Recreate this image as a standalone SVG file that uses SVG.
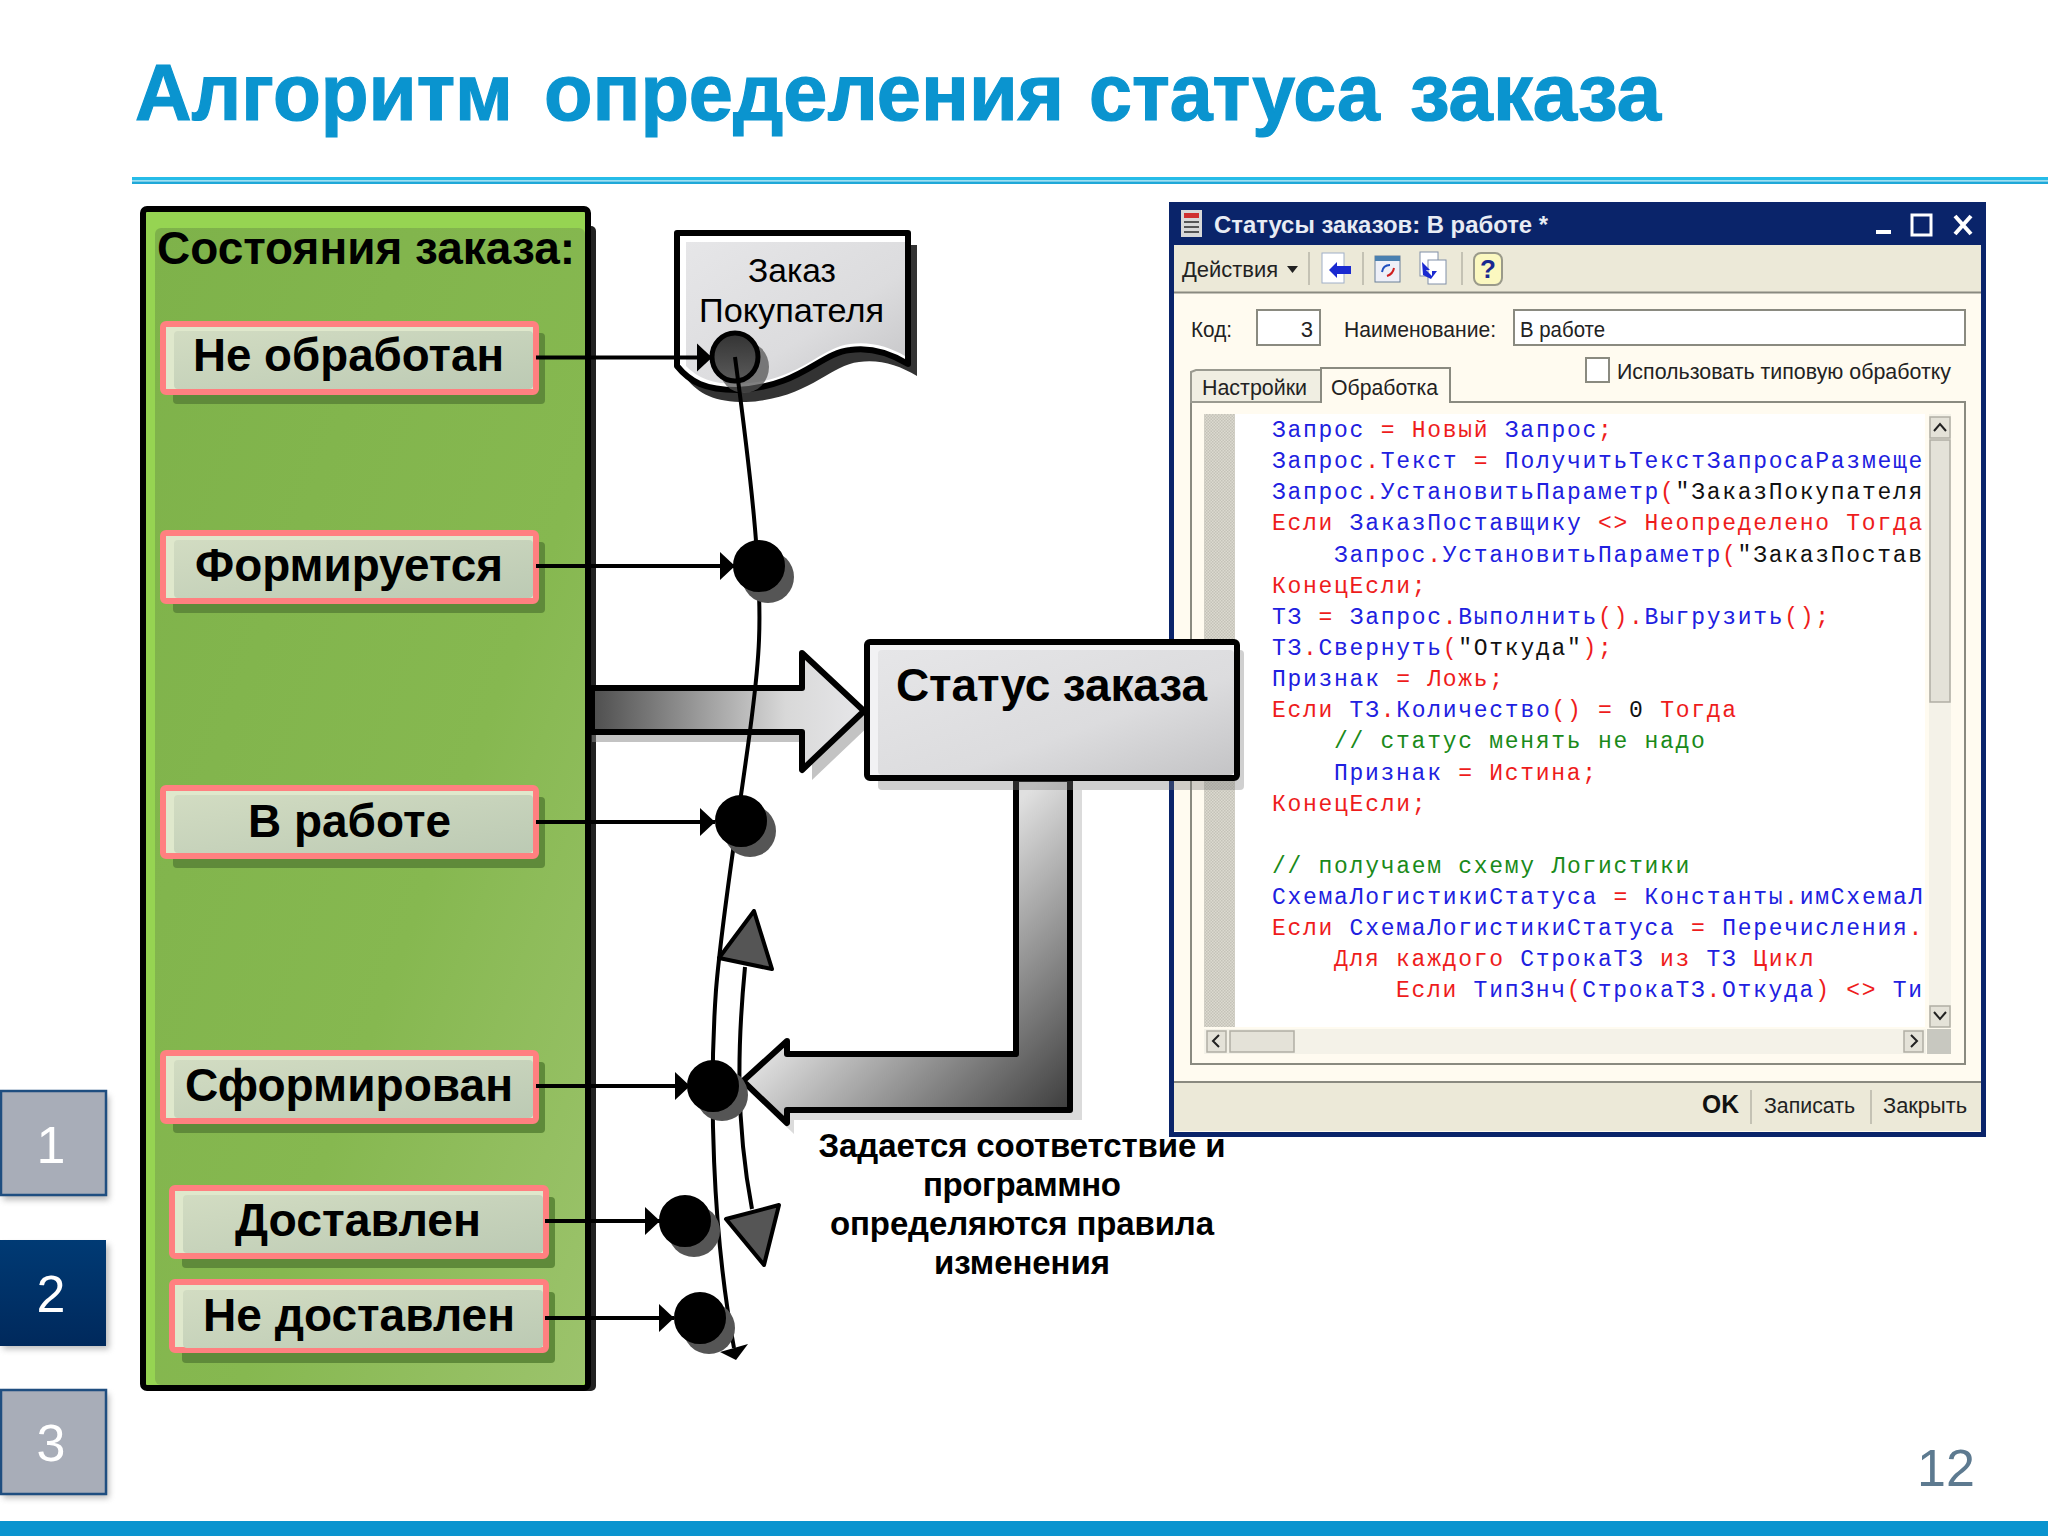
<svg xmlns="http://www.w3.org/2000/svg" width="2048" height="1536" viewBox="0 0 2048 1536">
<defs>
<style>
text{font-family:"Liberation Sans",Arial,sans-serif}
.st{font-weight:700;font-size:46px;fill:#000}
.nav{fill:#fff;font-size:52px;text-anchor:middle}
.boxsh{fill:#5f8a3a}
.boxo{fill:#dfe8cc;stroke:#ff8080;stroke-width:6}
.boxi{fill:url(#boxg)}
.sh{fill:#555}
.dot{fill:#000;stroke:#000;stroke-width:2}
.con{fill:none;stroke:#000;stroke-width:4}
.ui{font-size:22px;fill:#222}
.code{font-family:"Liberation Mono","Courier New",monospace;font-size:23px;letter-spacing:1.72px;fill:#2020e0;white-space:pre}
.r{fill:#ee1c1c}
.k{fill:#111}
.g{fill:#1a8a1a}
.inp{fill:#fff;stroke:#8a8a80;stroke-width:2}
.btn{fill:#e4e2d8;stroke:#b0aea4;stroke-width:1.5}
.sep{stroke:#c4c2b4;stroke-width:2}
</style>
<linearGradient id="boxg" x1="0" y1="0" x2="1" y2="1"><stop offset="0" stop-color="#d2dcc2"/><stop offset="1" stop-color="#bccab4"/></linearGradient>
<linearGradient id="pan" x1="0" y1="0" x2="1" y2="1"><stop offset="0" stop-color="#7eb24a"/><stop offset=".6" stop-color="#86b850"/><stop offset="1" stop-color="#9cc36c"/></linearGradient>
<linearGradient id="gr" x1="0" y1="0" x2="1" y2="1"><stop offset="0" stop-color="#e6e6e8"/><stop offset=".6" stop-color="#dcdcde"/><stop offset="1" stop-color="#c4c4c6"/></linearGradient>
<linearGradient id="a1" gradientUnits="userSpaceOnUse" x1="592" y1="700" x2="850" y2="700"><stop offset="0" stop-color="#4e4e4e"/><stop offset=".75" stop-color="#d8d8d8"/><stop offset="1" stop-color="#e4e4e6"/></linearGradient>
<linearGradient id="a2" gradientUnits="userSpaceOnUse" x1="890" y1="930" x2="1070" y2="1110"><stop offset="0" stop-color="#e0e0e0"/><stop offset="1" stop-color="#3c3c3c"/></linearGradient>
<linearGradient id="nv" x1="0" y1="0" x2="0" y2="1"><stop offset="0" stop-color="#003a74"/><stop offset="1" stop-color="#00295c"/></linearGradient>
<linearGradient id="dot1" x1="0" y1="0" x2="0" y2="1"><stop offset="0" stop-color="#333"/><stop offset="1" stop-color="#5a5a5a"/></linearGradient>
<pattern id="dith" width="3" height="3" patternUnits="userSpaceOnUse"><rect width="3" height="3" fill="#dcdad0"/><rect width="1.5" height="1.5" fill="#c4c2b8"/><rect x="1.5" y="1.5" width="1.5" height="1.5" fill="#c4c2b8"/></pattern>
<filter id="soft" x="-20%" y="-20%" width="140%" height="140%"><feGaussianBlur stdDeviation="3"/></filter>
<clipPath id="codeclip"><rect x="1236" y="414" width="688" height="612"/></clipPath>
<marker id="ah" markerUnits="userSpaceOnUse" markerWidth="16" markerHeight="30" refX="15" refY="15" orient="auto"><path d="M0,1 L15,15 L0,29 z" fill="#000"/></marker>
</defs>
<rect width="2048" height="1536" fill="#fff"/>

<g id="header">
<text x="135" y="120" font-size="80" font-weight="700" fill="#0a94cf" stroke="#0a94cf" stroke-width="1.2"><tspan x="135" textLength="378" lengthAdjust="spacingAndGlyphs">Алгоритм</tspan> <tspan x="544" textLength="520" lengthAdjust="spacingAndGlyphs">определения</tspan> <tspan x="1089" textLength="291" lengthAdjust="spacingAndGlyphs">статуса</tspan> <tspan x="1410" textLength="251" lengthAdjust="spacingAndGlyphs">заказа</tspan></text>
<rect x="132" y="177" width="1916" height="3.500" fill="#26bce8"/>
<rect x="132" y="180.500" width="1916" height="1" fill="#a8e4f4"/>
<rect x="132" y="181.500" width="1916" height="2.500" fill="#1fa8d8"/>
</g>

<g id="nav">
<g id="nav-1"><rect x="3" y="1096" width="106" height="104" fill="#777" opacity=".5" filter="url(#soft)"/><rect x="1" y="1091" width="105" height="104" fill="#a8adb8" stroke="#1f4e80" stroke-width="2.500"/><text class="nav" x="51" y="1163">1</text></g>
<g id="nav-2"><rect x="3" y="1245" width="106" height="104" fill="#777" opacity=".5" filter="url(#soft)"/><rect x="0" y="1240" width="106" height="106" fill="url(#nv)"/><text class="nav" x="51" y="1312">2</text></g>
<g id="nav-3"><rect x="3" y="1394" width="106" height="104" fill="#777" opacity=".5" filter="url(#soft)"/><rect x="1" y="1390" width="105" height="104" fill="#a8adb8" stroke="#1f4e80" stroke-width="2.500"/><text class="nav" x="51" y="1461">3</text></g>
</g>

<g id="footer">
<rect x="0" y="1521" width="2048" height="15" fill="#0a94cf"/>
<text x="1917" y="1486" font-size="52" fill="#5d7a90">12</text>
</g>

<g id="window">
<rect x="1169" y="202" width="817" height="935" fill="#0a246a"/>
<rect x="1174" y="245" width="807" height="887" fill="#fffbf0"/>
<rect x="1174" y="245" width="807" height="47" fill="#ece9d8"/>
<line x1="1174" y1="292.500" x2="1981" y2="292.500" stroke="#8a8a80" stroke-width="2"/>
<rect x="1174" y="1082" width="807" height="49" fill="#ece9d8"/>
<line x1="1174" y1="1082" x2="1981" y2="1082" stroke="#8a8a80" stroke-width="2"/>
<g id="title-icon"><rect x="1181" y="210" width="21" height="27" fill="#d8d8d8"/><rect x="1184" y="213" width="15" height="5" fill="#d03030"/><rect x="1184" y="221" width="15" height="2" fill="#555"/><rect x="1184" y="226" width="15" height="2" fill="#555"/><rect x="1184" y="231" width="15" height="2" fill="#555"/></g>
<text x="1214" y="233" font-size="24" font-weight="700" fill="#e8ecf4" textLength="334" lengthAdjust="spacingAndGlyphs">Статусы заказов: В работе *</text>
<rect x="1876" y="230" width="15" height="4" fill="#fff"/>
<rect x="1912" y="215" width="19" height="20" fill="none" stroke="#fff" stroke-width="3"/>
<path d="M1955,216 L1971,234 M1971,216 L1955,234" stroke="#fff" stroke-width="4"/>
<text class="ui" x="1182" y="277" textLength="96" lengthAdjust="spacingAndGlyphs">Действия</text>
<path d="M1287,266 h11 l-5.500,7 z" fill="#222"/>
<line class="sep" x1="1309" y1="252" x2="1309" y2="285"/><line class="sep" x1="1363" y1="252" x2="1363" y2="285"/><line class="sep" x1="1462" y1="252" x2="1462" y2="285"/>
<g id="tb-1"><rect x="1322" y="253" width="22" height="30" fill="#fff" stroke="#a0b0c8"/><path d="M1351,266 h-14 v-4 l-8,8 l8,8 v-4 h14 z" fill="#1a2ad0"/></g>
<g id="tb-2"><rect x="1375" y="256" width="25" height="26" fill="#eef0f8" stroke="#6a8098"/><rect x="1375" y="256" width="25" height="5" fill="#4a80b0"/><path d="M1382,272 q1,-7 8,-7" fill="none" stroke="#2050c0" stroke-width="2"/><path d="M1394,268 q-1,6 -7,8" fill="none" stroke="#d02020" stroke-width="2"/></g>
<g id="tb-3"><rect x="1420" y="252" width="18" height="24" fill="#fff" stroke="#8090a8"/><rect x="1428" y="260" width="18" height="24" fill="#fff" stroke="#8090a8"/><path d="M1422,262 l8,8 h-4 l6,6 v-5 h5 l-6,8 l-8,-4 z" fill="#1a2ad0"/></g>
<g id="tb-4"><rect x="1474" y="253" width="28" height="32" rx="7" fill="#fbf8c0" stroke="#9a9a8a" stroke-width="2"/><text x="1488" y="278" font-size="26" font-weight="700" fill="#1a2a90" text-anchor="middle">?</text></g>
<text class="ui" x="1191" y="337" textLength="41" lengthAdjust="spacingAndGlyphs">Код:</text>
<rect class="inp" x="1257" y="310" width="63" height="35"/>
<text class="ui" x="1313" y="337" text-anchor="end">3</text>
<text class="ui" x="1344" y="337" textLength="152" lengthAdjust="spacingAndGlyphs">Наименование:</text>
<rect class="inp" x="1514" y="310" width="451" height="35"/>
<text class="ui" x="1520" y="337" textLength="85" lengthAdjust="spacingAndGlyphs">В работе</text>
<rect x="1586" y="358" width="23" height="24" fill="#fff" stroke="#8a8a80" stroke-width="2"/>
<text class="ui" x="1617" y="379" textLength="334" lengthAdjust="spacingAndGlyphs">Использовать типовую обработку</text>
<rect x="1191" y="402" width="774" height="662" fill="#fffbf0" stroke="#8a8a80" stroke-width="2"/>
<path d="M1191,402 V372 L1196,370 H1321 V402 z" fill="#f0eee2" stroke="#9a9a90" stroke-width="2"/>
<path d="M1321,403 V368 H1450 V403" fill="#fffbf0" stroke="#8a8a80" stroke-width="2"/>
<text class="ui" x="1202" y="395" textLength="105" lengthAdjust="spacingAndGlyphs">Настройки</text>
<text class="ui" x="1331" y="395" textLength="107" lengthAdjust="spacingAndGlyphs">Обработка</text>
<rect x="1204" y="414" width="31" height="613" fill="url(#dith)"/>
<rect x="1235" y="414" width="690" height="613" fill="#fff"/>
<g clip-path="url(#codeclip)">
<text class="code" x="1272" y="437">Запрос <tspan class="r">= Новый</tspan> Запрос<tspan class="r">;</tspan></text>
<text class="code" x="1272" y="468">Запрос<tspan class="r">.</tspan>Текст <tspan class="r">=</tspan> ПолучитьТекстЗапросаРазмеще</text>
<text class="code" x="1272" y="499">Запрос<tspan class="r">.</tspan>УстановитьПараметр<tspan class="r">(</tspan><tspan class="k">"ЗаказПокупателя</tspan></text>
<text class="code" x="1272" y="530"><tspan class="r">Если</tspan> ЗаказПоставщику <tspan class="r">&lt;&gt; Неопределено Тогда</tspan></text>
<text class="code" x="1334" y="562">Запрос<tspan class="r">.</tspan>УстановитьПараметр<tspan class="r">(</tspan><tspan class="k">"ЗаказПостав:</tspan></text>
<text class="code r" x="1272" y="593">КонецЕсли;</text>
<text class="code" x="1272" y="624">ТЗ <tspan class="r">=</tspan> Запрос<tspan class="r">.</tspan>Выполнить<tspan class="r">().</tspan>Выгрузить<tspan class="r">();</tspan></text>
<text class="code" x="1272" y="655">ТЗ<tspan class="r">.</tspan>Свернуть<tspan class="r">(</tspan><tspan class="k">"Откуда"</tspan><tspan class="r">);</tspan></text>
<text class="code" x="1272" y="686">Признак <tspan class="r">= Ложь;</tspan></text>
<text class="code" x="1272" y="717"><tspan class="r">Если</tspan> ТЗ<tspan class="r">.</tspan>Количество<tspan class="r">() =</tspan> <tspan class="k">0</tspan> <tspan class="r">Тогда</tspan></text>
<text class="code g" x="1334" y="748">// статус менять не надо</text>
<text class="code" x="1334" y="780">Признак <tspan class="r">= Истина;</tspan></text>
<text class="code r" x="1272" y="811">КонецЕсли;</text>
<text class="code g" x="1272" y="873">// получаем схему Логистики</text>
<text class="code" x="1272" y="904">СхемаЛогистикиСтатуса <tspan class="r">=</tspan> Константы<tspan class="r">.</tspan>имСхемаЛ</text>
<text class="code" x="1272" y="935"><tspan class="r">Если</tspan> СхемаЛогистикиСтатуса <tspan class="r">=</tspan> Перечисления<tspan class="r">.:</tspan></text>
<text class="code" x="1334" y="966"><tspan class="r">Для каждого</tspan> СтрокаТЗ <tspan class="r">из</tspan> ТЗ <tspan class="r">Цикл</tspan></text>
<text class="code" x="1396" y="997"><tspan class="r">Если</tspan> ТипЗнч<tspan class="r">(</tspan>СтрокаТЗ<tspan class="r">.</tspan>Откуда<tspan class="r">) &lt;&gt;</tspan> Ти</text>
</g>
<g id="scrollbars">
<rect x="1929" y="414" width="22" height="613" fill="#f4f2e8"/>
<rect class="btn" x="1930" y="417" width="20" height="21"/><path d="M1934,431 l6,-7 l6,7" fill="none" stroke="#222" stroke-width="2"/>
<rect class="btn" x="1930" y="440" width="20" height="262"/>
<rect class="btn" x="1930" y="1006" width="20" height="21"/><path d="M1934,1012 l6,7 l6,-7" fill="none" stroke="#222" stroke-width="2"/>
<rect x="1204" y="1029" width="722" height="25" fill="#f4f2e8"/>
<rect class="btn" x="1207" y="1031" width="19" height="21"/><path d="M1219,1035 l-6,6 l6,6" fill="none" stroke="#222" stroke-width="2"/>
<rect class="btn" x="1230" y="1031" width="64" height="21"/>
<rect class="btn" x="1904" y="1031" width="19" height="21"/><path d="M1911,1035 l6,6 l-6,6" fill="none" stroke="#222" stroke-width="2"/>
<rect x="1927" y="1029" width="24" height="25" fill="#c8c8c0"/>
</g>
<text x="1702" y="1113" font-size="26" font-weight="700" fill="#111" textLength="37" lengthAdjust="spacingAndGlyphs">OK</text>
<line class="sep" x1="1751" y1="1090" x2="1751" y2="1124"/><line class="sep" x1="1871" y1="1090" x2="1871" y2="1124"/>
<text class="ui" x="1764" y="1113" textLength="91" lengthAdjust="spacingAndGlyphs">Записать</text>
<text class="ui" x="1883" y="1113" textLength="84" lengthAdjust="spacingAndGlyphs">Закрыть</text>
</g>

<g id="panel">
<rect x="152" y="226" width="444" height="1165" rx="5" fill="#222"/>
<rect x="143" y="209" width="445" height="1179" rx="4" fill="#96d452" stroke="#000" stroke-width="6"/>
<rect x="155" y="228" width="430" height="1157" rx="6" fill="url(#pan)"/>
<text class="st" x="157" y="264" textLength="418" lengthAdjust="spacingAndGlyphs">Состояния заказа:</text>
</g>
<g id="state-1"><rect class="boxsh" x="173" y="333" width="372" height="71" rx="4"/><rect class="boxo" x="163" y="324" width="373" height="68" rx="3"/><rect class="boxi" x="174" y="331" width="359" height="58" rx="4"/><text class="st" x="193" y="371" textLength="311" lengthAdjust="spacingAndGlyphs">Не обработан</text></g>
<g id="state-2"><rect class="boxsh" x="173" y="542" width="372" height="71" rx="4"/><rect class="boxo" x="163" y="533" width="373" height="68" rx="3"/><rect class="boxi" x="174" y="540" width="359" height="58" rx="4"/><text class="st" x="195" y="581" textLength="308" lengthAdjust="spacingAndGlyphs">Формируется</text></g>
<g id="state-3"><rect class="boxsh" x="173" y="797" width="372" height="71" rx="4"/><rect class="boxo" x="163" y="788" width="373" height="68" rx="3"/><rect class="boxi" x="174" y="795" width="359" height="58" rx="4"/><text class="st" x="248" y="837" textLength="203" lengthAdjust="spacingAndGlyphs">В работе</text></g>
<g id="state-4"><rect class="boxsh" x="173" y="1062" width="372" height="71" rx="4"/><rect class="boxo" x="163" y="1053" width="373" height="68" rx="3"/><rect class="boxi" x="174" y="1060" width="359" height="58" rx="4"/><text class="st" x="185" y="1101" textLength="328" lengthAdjust="spacingAndGlyphs">Сформирован</text></g>
<g id="state-5"><rect class="boxsh" x="182" y="1197" width="373" height="71" rx="4"/><rect class="boxo" x="172" y="1188" width="374" height="68" rx="3"/><rect class="boxi" x="183" y="1195" width="360" height="58" rx="4"/><text class="st" x="235" y="1236" textLength="246" lengthAdjust="spacingAndGlyphs">Доставлен</text></g>
<g id="state-6"><rect class="boxsh" x="182" y="1292" width="373" height="71" rx="4"/><rect class="boxo" x="172" y="1282" width="374" height="68" rx="3"/><rect class="boxi" x="183" y="1290" width="360" height="58" rx="4"/><text class="st" x="203" y="1331" textLength="312" lengthAdjust="spacingAndGlyphs">Не доставлен</text></g>

<g id="document">
<path d="M677,233 H908 V364 C890,353 870,347 850,350 C820,353 800,387 737,390 C705,390 690,382 677,366 z" fill="#333" transform="translate(9,12)"/>
<path d="M677,233 H908 V364 C890,353 870,347 850,350 C820,353 800,387 737,390 C705,390 690,382 677,366 z" fill="#fff" stroke="#000" stroke-width="6" stroke-linejoin="round"/>
<path d="M686,242 H905 V356 C890,347 870,341 850,344 C820,347 800,382 737,384 C712,384 698,378 686,366 z" fill="url(#gr)"/>
<text x="748" y="282" font-family="Noto Sans" font-weight="500" font-size="34" fill="#000" textLength="88" lengthAdjust="spacingAndGlyphs">Заказ</text>
<text x="699" y="322" font-family="Noto Sans" font-weight="500" font-size="34" fill="#000" textLength="185" lengthAdjust="spacingAndGlyphs">Покупателя</text>
</g>

<g id="arrow-in">
<path d="M592,697 H810 L812,660 L873,722 L812,780 V742 H592 z" fill="#888" opacity=".5"/>
<path d="M592,688 H802 V653 L864,711 L802,770 V732 H592 z" fill="url(#a1)" stroke="#000" stroke-width="6" stroke-linejoin="round"/>
</g>
<g id="arrow-out">
<path d="M1026,790 H1082 V1120 H794 V1134 L750,1092 L794,1052 V1064 H1026 z" fill="#999" opacity=".35"/>
<path d="M1016,779 V1054 H787 V1041 L743,1081 L787,1123 V1110 H1070 V779 z" fill="url(#a2)" stroke="#000" stroke-width="6" stroke-linejoin="round"/>
</g>
<g id="status">
<rect x="878" y="650" width="366" height="140" rx="4" fill="#777" opacity=".35"/>
<rect x="867" y="642" width="370" height="136" rx="3" fill="#f2f2f4" stroke="#000" stroke-width="6"/>
<rect x="878" y="650" width="356" height="125" rx="4" fill="url(#gr)"/>
<text class="st" x="896" y="701" textLength="311" lengthAdjust="spacing">Статус заказа</text>
</g>

<g id="dot-1"><ellipse class="sh" cx="744" cy="367" rx="25" ry="26" opacity=".75"/><ellipse cx="735" cy="357" rx="23" ry="24" fill="url(#dot1)" stroke="#000" stroke-width="5"/></g>

<g id="connectors">
<line class="con" x1="536" y1="357.500" x2="712" y2="357.500" marker-end="url(#ah)"/>
<line class="con" x1="536" y1="566" x2="735" y2="566" marker-end="url(#ah)"/>
<line class="con" x1="536" y1="822" x2="715" y2="822" marker-end="url(#ah)"/>
<line class="con" x1="536" y1="1086" x2="690" y2="1086" marker-end="url(#ah)"/>
<line class="con" x1="545" y1="1221" x2="660" y2="1221" marker-end="url(#ah)"/>
<line class="con" x1="545" y1="1318" x2="674" y2="1318" marker-end="url(#ah)"/>
<path class="con" d="M735,357 C750,470 762,570 759,640 C756,720 725,880 716,990 C709,1090 712,1230 734,1348"/>
<path d="M736,1360 L720,1352 L748,1344 z" fill="#000"/>
<path class="con" d="M745,967 C738,1040 735,1120 752,1209"/>
<path d="M754,911 L719,958 L772,969 z" fill="#555" stroke="#000" stroke-width="4" stroke-linejoin="round"/>
<path d="M764,1265 L726,1219 L779,1205 z" fill="#555" stroke="#000" stroke-width="4" stroke-linejoin="round"/>
</g>

<g id="dot-2"><ellipse class="sh" cx="768" cy="577" rx="26" ry="26"/><ellipse class="dot" cx="759" cy="566" rx="25" ry="25"/></g>
<g id="dot-3"><ellipse class="sh" cx="750" cy="831" rx="26" ry="26"/><ellipse class="dot" cx="741" cy="821" rx="25" ry="25"/></g>
<g id="dot-4"><ellipse class="sh" cx="722" cy="1095" rx="26" ry="26"/><ellipse class="dot" cx="713" cy="1086" rx="25" ry="25"/></g>
<g id="dot-5"><ellipse class="sh" cx="694" cy="1231" rx="26" ry="26"/><ellipse class="dot" cx="685" cy="1221" rx="25" ry="25"/></g>
<g id="dot-6"><ellipse class="sh" cx="709" cy="1328" rx="26" ry="26"/><ellipse class="dot" cx="700" cy="1318" rx="25" ry="25"/></g>

<g id="note" font-size="33" font-weight="700" fill="#000" text-anchor="middle">
<text x="1022" y="1157" textLength="407" lengthAdjust="spacing">Задается соответствие и</text>
<text x="1022" y="1196" textLength="198" lengthAdjust="spacing">программно</text>
<text x="1022" y="1235" textLength="384" lengthAdjust="spacing">определяются правила</text>
<text x="1022" y="1274" textLength="176" lengthAdjust="spacing">изменения</text>
</g>
</svg>
